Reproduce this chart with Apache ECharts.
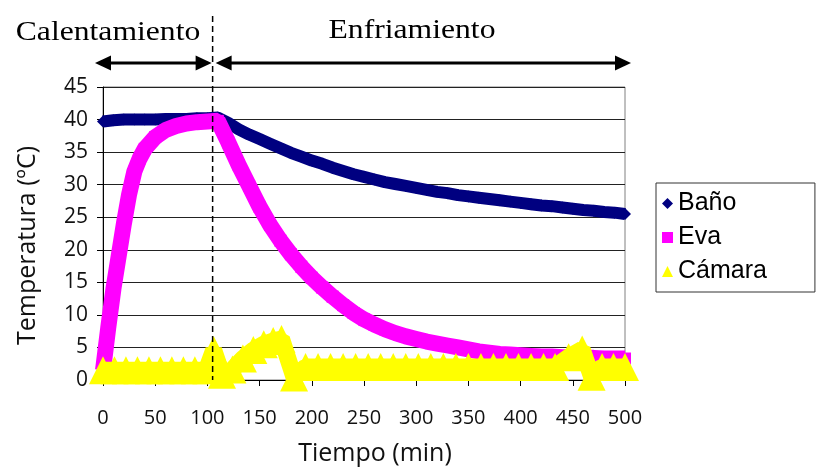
<!DOCTYPE html>
<html><head><meta charset="utf-8">
<script src="https://cdn.jsdelivr.net/npm/echarts@6/dist/echarts.min.js"></script>
<style>html,body{margin:0;padding:0;background:#fff}#c{width:822px;height:471px}</style>
</head><body><div id="c"></div>
<script>
// ---- data ----
const seriesNames = ['Baño', 'Eva', 'Cámara'];
const xAxisName = 'Tiempo (min)';
const yAxisName = 'Temperatura (ºC)';
const phaseLabels = ['Calentamiento', 'Enfriamiento'];
const phaseSplit = 105; // min

const banoTime = [0,10,20,30,40,50,60,70,80,90,100,110,120,130,140,150,160,170,180,190,200,210,220,230,240,250,260,270,280,290,300,310,320,330,340,350,360,370,380,390,400,410,420,430,440,450,460,470,480,490,500];
const banoTemp = [39.7,39.9,40.0,40.0,40.0,40.0,40.1,40.1,40.1,40.2,40.2,40.3,39.5,38.5,37.7,37.0,36.3,35.6,34.9,34.3,33.7,33.2,32.6,32.1,31.6,31.2,30.8,30.4,30.1,29.8,29.5,29.2,28.9,28.7,28.4,28.2,28.0,27.8,27.6,27.4,27.2,27.0,26.8,26.7,26.5,26.3,26.1,26.0,25.8,25.7,25.5];

const evaTime = [0,5,10,15,20,25,30,35,40,50,60,70,80,90,100,110,120,130,140,150,160,170,180,190,200,210,220,230,240,250,260,270,280,290,300,310,320,330,340,350,360,370,380,390,400,410,420,430,440,450,460,470,480,490,500];
const evaTemp = [1.5,8,14,19,24,28.5,32,34,35.5,37.3,38.4,39.0,39.4,39.6,39.7,39.8,36.5,33.0,29.8,26.6,23.8,21.4,19.3,17.4,15.7,14.2,12.8,11.5,10.3,9.3,8.5,7.8,7.2,6.7,6.3,5.9,5.6,5.3,5.0,4.7,4.4,4.2,4.0,3.9,3.8,3.7,3.6,3.6,3.5,3.5,3.4,3.4,3.3,3.3,3.3];

const camaraTime = [0,11,22,33,44,55,66,77,88,99,106,114,124,134,144,154,163,171,183,194,206,218,230,242,254,266,278,290,302,314,326,338,350,362,374,386,398,410,422,433,446,459,468,478,489,500];
const camaraTemp = [1.5,1.5,1.5,1.5,1.5,1.5,1.5,1.5,1.5,1.5,4.6,0.8,1.6,3.3,4.6,5.5,6.0,6.3,0.4,2.0,2.0,2.0,2.0,2.0,2.0,2.0,2.0,2.0,2.0,2.0,2.0,2.0,2.0,2.0,2.0,2.0,2.0,2.0,2.0,2.0,3.5,4.7,0.5,2.0,2.0,2.0];

const colors = ['#000080', '#FF00FF', '#FFFF00'];

function pairs(t, v) { return t.map((x, i) => [x, v[i]]); }

const chart = echarts.init(document.getElementById('c'));
const axisFont = 'Open Sans';
const option = {
  animation: false,
  backgroundColor: '#fff',
  grid: { left: 103, right: 197, top: 87, bottom: 89, show: true, borderColor: '#808080', borderWidth: 1 },
  xAxis: {
    type: 'value', min: 0, max: 500, interval: 50,
    axisLine: { show: true, onZero: false, lineStyle: { color: '#000', width: 1 } },
    axisTick: { show: true, length: 6, lineStyle: { color: '#000' } },
    splitLine: { show: false },
    axisLabel: { fontFamily: axisFont, fontSize: 20, color: '#111', margin: 28 },
    name: xAxisName, nameLocation: 'middle', nameGap: 61,
    nameTextStyle: { fontFamily: axisFont, fontSize: 25, color: '#111', padding: [0, 0, 0, 22] }
  },
  yAxis: {
    type: 'value', min: 0, max: 45, interval: 5,
    axisLine: { show: true, lineStyle: { color: '#000', width: 1 } },
    axisTick: { show: true, length: 6, lineStyle: { color: '#000' } },
    splitLine: { show: true, lineStyle: { color: '#222', width: 1 } },
    axisLabel: { fontFamily: axisFont, fontSize: 21, color: '#111', margin: 15 },
    name: yAxisName, nameLocation: 'middle', nameGap: 63, nameRotate: 90,
    nameTextStyle: { fontFamily: axisFont, fontSize: 25, color: '#111', padding: [0, 24, 0, 0] }
  },
  legend: {
    orient: 'vertical', left: 656, top: 183,
    padding: [8, 48, 8, 6], itemGap: 9, itemWidth: 11, itemHeight: 11,
    borderColor: '#333', borderWidth: 1, backgroundColor: '#fff',
    textStyle: { fontFamily: 'Liberation Sans', fontSize: 25, color: '#000' },
    data: [
      { name: seriesNames[0], icon: 'diamond' },
      { name: seriesNames[1], icon: 'rect' },
      { name: seriesNames[2], icon: 'triangle' }
    ]
  },
  series: [
    { name: seriesNames[0], type: 'line', data: pairs(banoTime, banoTemp), color: colors[0],
      symbol: 'diamond', symbolSize: 12, showSymbol: true, lineStyle: { width: 12, color: colors[0] },
      itemStyle: { color: colors[0] }, z: 2 },
    { name: seriesNames[1], type: 'line', data: pairs(evaTime, evaTemp), color: colors[1],
      symbol: 'rect', symbolSize: 12, showSymbol: true, lineStyle: { width: 16, color: colors[1] },
      itemStyle: { color: colors[1] }, z: 3 },
    { name: seriesNames[2], type: 'line', data: pairs(camaraTime, camaraTemp), color: colors[2],
      symbol: 'triangle', symbolSize: 28, showSymbol: true, lineStyle: { width: 17, color: colors[2] },
      itemStyle: { color: colors[2] }, z: 4 }
  ]
};
chart.setOption(option);

// ---- annotations (phase divider and arrows), positioned via the axis scales ----
const px = v => chart.convertToPixel({ xAxisIndex: 0 }, v);
const py = v => chart.convertToPixel({ yAxisIndex: 0 }, v);
const xs = px(phaseSplit), x0 = px(0), x1 = px(500), yb = py(0);
const ay = 63;
function arrow(xa, xb, y) {
  const L = 16, H = 7.5;
  return [
    { type: 'line', shape: { x1: xa + L - 2, y1: y, x2: xb - L + 2, y2: y }, style: { stroke: '#000', lineWidth: 3 } },
    { type: 'polygon', shape: { points: [[xa, y], [xa + L, y - H], [xa + L, y + H]] }, style: { fill: '#000' } },
    { type: 'polygon', shape: { points: [[xb, y], [xb - L, y - H], [xb - L, y + H]] }, style: { fill: '#000' } }
  ];
}
const g = [
  { type: 'line', shape: { x1: xs, y1: 16, x2: xs, y2: yb }, style: { stroke: '#000', lineWidth: 1.5, lineDash: [6, 4] }, z: 10 },
  ...arrow(x0 - 8, xs - 1, ay),
  ...arrow(xs + 3, x1 + 6, ay),
  { type: 'text', x: 108, y: 33, scaleX: 1.13, originX: 0, originY: 0, style: { text: phaseLabels[0], font: '28px "Liberation Serif"', fill: '#000', align: 'center', verticalAlign: 'middle' } },
  { type: 'text', x: 412, y: 31, scaleX: 1.13, originX: 0, originY: 0, style: { text: phaseLabels[1], font: '28px "Liberation Serif"', fill: '#000', align: 'center', verticalAlign: 'middle' } }
];
chart.setOption({ graphic: g });
</script></body></html>
